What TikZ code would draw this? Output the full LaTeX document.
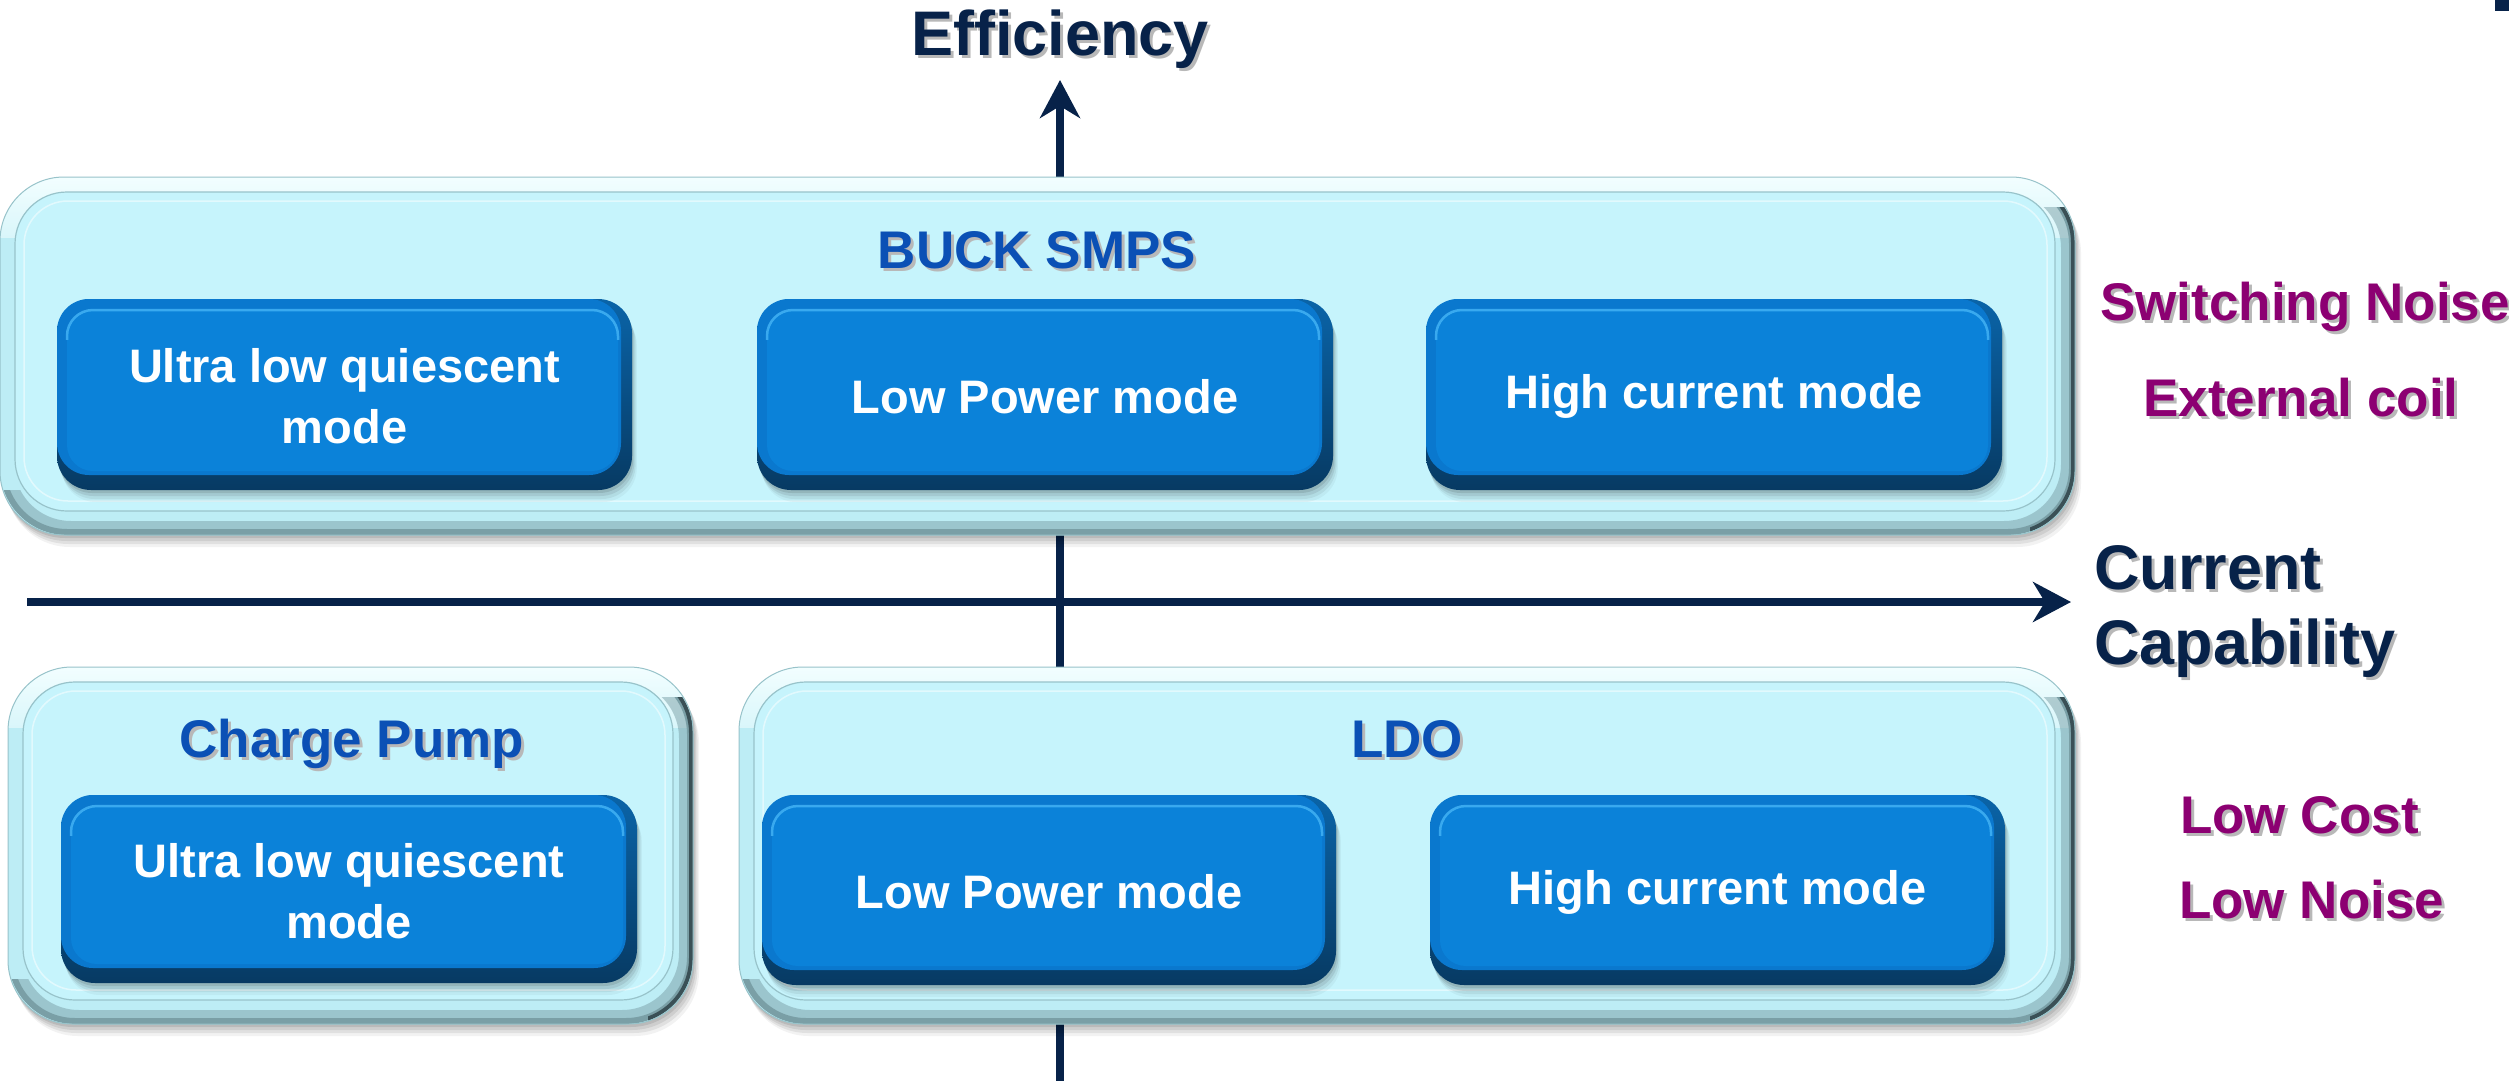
\documentclass[tikz,border=0pt]{standalone}
\usepackage{fontspec}
\setmainfont{Liberation Sans}
\usetikzlibrary{arrows.meta,fit}

\definecolor{navy}{HTML}{072249}
\definecolor{titleblue}{HTML}{0B50B5}
\definecolor{plum}{HTML}{8C0072}
\definecolor{panelfill}{HTML}{C6F4FC}
\definecolor{rim}{HTML}{BDEDF5}
\definecolor{rimhi}{HTML}{F2FEFF}
\definecolor{rimlow}{HTML}{7A9FA6}
\definecolor{rimdark}{HTML}{2B3D42}
\definecolor{panelline}{HTML}{98C3CA}
\definecolor{keytop}{HTML}{0A64A8}
\definecolor{keybot}{HTML}{073A63}
\definecolor{keyedge}{HTML}{0A78CE}
\definecolor{keyface}{HTML}{0B82D9}
\definecolor{keyhi}{HTML}{45B5F6}

% text with a soft grey drop shadow
\newcommand\shtxt[1]{\makebox[0pt][l]{\kern3pt\raisebox{-3pt}{\textcolor{black!28}{#1}}}#1}

% a bevelled light-cyan panel: name, x0, y0, x1, y1
\newcommand\mkpanel[5]{%
  \foreach \k/\o in {3/.10,6/.08,9/.07,12/.05}
    \fill[black, opacity=\o, rounded corners=64pt] (#2+\k*.5,#3+\k) rectangle (#4+\k*.5,#5+\k);
  \fill[rim, rounded corners=64pt] (#2,#3) rectangle (#4,#5);
  % lit upper rim
  \begin{scope}
    \clip (#2-20,#3-20) rectangle (#4+20,#3+60);
    \shade[rounded corners=64pt, top color=rimhi, bottom color=rim] (#2,#3) rectangle (#4,#3+130);
  \end{scope}
  % shaded lower and right rim
  \begin{scope}
    \clip (#4-50,#3+30) rectangle (#4+20,#5+20) (#2-20,#5-45) rectangle (#4+20,#5+20);
    \draw[rimlow, opacity=.5, line width=14pt, rounded corners=64pt] (#2+7,#3+7) rectangle (#4-7,#5-7);
    \draw[rimlow, line width=6pt, rounded corners=64pt] (#2+3,#3+3) rectangle (#4-3,#5-3);
  \end{scope}
  \begin{scope}
    \clip (#4-45,#3+30) rectangle (#4+20,#5+20);
    \draw[rimdark, opacity=.8, line width=4pt, rounded corners=64pt] (#2+2,#3+2) rectangle (#4-2,#5-2);
  \end{scope}
  \draw[panelline, line width=1pt, rounded corners=64pt] (#2,#3) rectangle (#4,#5);
  \fill[panelfill, draw=panelline, line width=1.2pt, rounded corners=52pt] (#2+15,#3+15) rectangle (#4-20,#5-24);
  \draw[white, opacity=.5, line width=1.5pt, rounded corners=44pt] (#2+24,#3+24) rectangle (#4-28,#5-34);
  \node[fit={(#2,#3)(#4,#5)}, inner sep=0pt] (#1) {};
}

% a raised blue key with its label: name, x0, y0, x1, y1, text
\newcommand\mkkey[6]{%
  \foreach \k/\o in {3/.10,6/.08,9/.06,12/.04}
    \fill[black, opacity=\o, rounded corners=34pt] (#2+\k*.4,#3+\k) rectangle (#4+\k*.4,#5+\k);
  \shade[rounded corners=34pt, top color=keytop, bottom color=keybot] (#2,#3) rectangle (#4,#5);
  \fill[keyedge, rounded corners=32pt] (#2,#3) rectangle (#4-11,#5-15);
  \fill[keyface, rounded corners=26pt] (#2+10,#3+11) rectangle (#4-14,#5-19);
  \begin{scope}
    \clip (#2,#3) rectangle (#4,#3+40);
    \draw[keyhi, opacity=.8, line width=2.5pt, rounded corners=26pt] (#2+10,#3+11) rectangle (#4-14,#5-19);
  \end{scope}
  \node[fit={(#2,#3)(#4,#5)}, inner sep=0pt] (#1) {};
  \node[keytext] (#1-label) at ([yshift=-2pt]#1.center) {#6};
}

\begin{document}
\begin{tikzpicture}[x=1pt, y=-1pt,
  axis/.style={navy, line width=8pt, -{Stealth[length=38pt, width=40pt, inset=12pt]}},
  keytext/.style={inner sep=0pt, text=white, align=center,
    font=\fontsize{47}{61}\selectfont\bfseries},
  paneltitle/.style={anchor=base, inner sep=0pt, text=titleblue,
    font=\fontsize{53}{64}\selectfont\bfseries},
  trait/.style={inner sep=0pt, text=plum, font=\fontsize{53}{64}\selectfont\bfseries},
  axislabel/.style={inner sep=0pt, text=navy, font=\fontsize{63}{75}\selectfont\bfseries}]

\fill[white] (0,0) rectangle (2509,1081);
\useasboundingbox (0,0) rectangle (2509,1081);

% corner mark
\fill[navy] (2495,0) rectangle (2509,11);

% axes
\node[axislabel, anchor=base] (eff) at (1060,56) {\shtxt{Efficiency}};
\node[axislabel, anchor=base west] (cur1) at (2094,589) {\shtxt{Current}};
\node[axislabel, anchor=base west] (cur2) at (2094,664) {\shtxt{Capability}};
\coordinate (ytop) at (1060,80);
\coordinate (ybot) at (1060,1081);
\coordinate (xl) at (27,602);
\coordinate (xr) at (2071,602);
\draw[axis] (ybot) -- (ytop);
\draw[axis] (xl) -- (xr);

% switching regulator
\mkpanel{buck}{0}{177}{2075}{535}
\node[paneltitle] (bucktitle) at (1037,268) {\shtxt{BUCK SMPS}};
\mkkey{buckulq}{57}{299}{632}{490}{Ultra low quiescent\\mode}
\mkkey{bucklp}{757}{299}{1333}{490}{Low Power mode}
\mkkey{buckhc}{1426}{299}{2002}{490}{High current mode}

% charge pump
\mkpanel{cp}{8}{667}{693}{1024}
\node[paneltitle] (cptitle) at (352,757) {\shtxt{Charge Pump}};
\mkkey{cpulq}{61}{795}{637}{983}{Ultra low quiescent\\mode}

% linear regulator
\mkpanel{ldo}{739}{667}{2075}{1024}
\node[paneltitle] (ldotitle) at (1407,757) {\shtxt{LDO}};
\mkkey{ldolp}{762}{795}{1336}{985}{Low Power mode}
\mkkey{ldohc}{1430}{795}{2005}{985}{High current mode}

% properties
\node[trait, anchor=base] (swn) at (2305,320) {\shtxt{Switching Noise}};
\node[trait, anchor=base] (coil) at (2301,416) {\shtxt{External coil}};
\node[trait, anchor=base west] (cost) at (2180,833) {\shtxt{Low Cost}};
\node[trait, anchor=base west] (lown) at (2179,918) {\shtxt{Low Noise}};

\end{tikzpicture}
\end{document}
